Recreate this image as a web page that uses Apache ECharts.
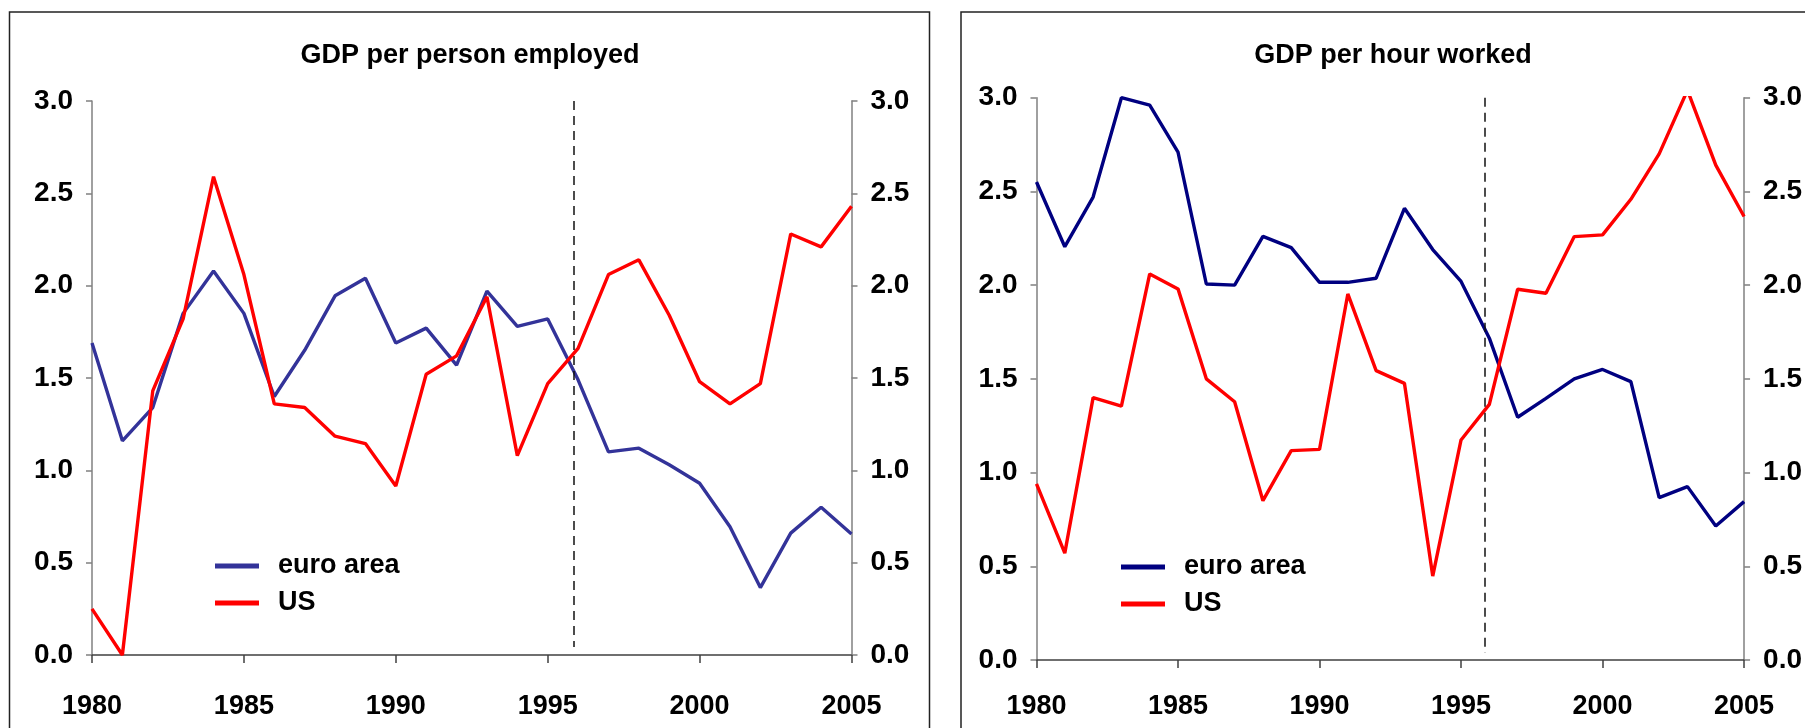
<!DOCTYPE html>
<html>
<head>
<meta charset="utf-8">
<script src="https://cdn.jsdelivr.net/npm/echarts@6/dist/echarts.min.js"></script>
<style>
  html, body { margin: 0; padding: 0; background: #fff; }
  #chart { width: 1805px; height: 728px; }
</style>
</head>
<body>
<div id="chart"></div>
<script>
// Years on the x axis
var years = [1980, 1981, 1982, 1983, 1984, 1985, 1986, 1987, 1988, 1989, 1990, 1991, 1992,
             1993, 1994, 1995, 1996, 1997, 1998, 1999, 2000, 2001, 2002, 2003, 2004, 2005];

// GDP per person employed (% growth)
var personEuro = [1.69, 1.16, 1.34, 1.85, 2.08, 1.85, 1.40, 1.65, 1.945, 2.04, 1.69, 1.77, 1.57,
                  1.97, 1.78, 1.82, 1.49, 1.10, 1.12, 1.03, 0.93, 0.695, 0.365, 0.66, 0.80, 0.655];
var personUS = [0.25, 0.0, 1.43, 1.82, 2.59, 2.06, 1.36, 1.34, 1.185, 1.145, 0.915, 1.52, 1.62,
                1.94, 1.08, 1.47, 1.66, 2.06, 2.14, 1.84, 1.48, 1.36, 1.47, 2.28, 2.21, 2.43];

// GDP per hour worked (% growth)
var hourEuro = [2.55, 2.205, 2.47, 3.0, 2.96, 2.71, 2.006, 2.0, 2.26, 2.20, 2.015, 2.015, 2.037,
                2.41, 2.19, 2.02, 1.717, 1.295, 1.396, 1.50, 1.55, 1.485, 0.866, 0.925, 0.715, 0.845];
var hourUS = [0.94, 0.57, 1.40, 1.355, 2.06, 1.98, 1.50, 1.378, 0.85, 1.117, 1.124, 1.953, 1.544,
              1.476, 0.448, 1.174, 1.364, 1.978, 1.957, 2.259, 2.268, 2.458, 2.70, 3.04, 2.64, 2.366];

var titles = ['GDP per person employed', 'GDP per hour worked'];
var breakYear = 1995.85;

var FONT = "'Liberation Sans', Arial, sans-serif";

function pairs(vals) {
  return years.map(function (y, i) { return [y, vals[i]]; });
}

var chart = echarts.init(document.getElementById('chart'));

function xAxisFor(gridIndex, margin) {
  return {
    type: 'value', gridIndex: gridIndex, min: 1980, max: 2005, interval: 5,
    axisLine: { lineStyle: { color: '#404040', width: 1.5 } },
    axisTick: { inside: false, length: 8, lineStyle: { color: '#404040', width: 1.5 } },
    splitLine: { show: false },
    axisLabel: {
      formatter: function (v) { return String(v); },
      fontFamily: FONT, fontWeight: 'bold', fontSize: 27, color: '#000', margin: margin
    }
  };
}

function yAxisFor(gridIndex, position) {
  return {
    type: 'value', gridIndex: gridIndex, position: position, min: 0, max: 3, interval: 0.5,
    axisLine: { show: true, lineStyle: { color: '#808080', width: 1.5 } },
    axisTick: { show: true, length: 6, lineStyle: { color: '#808080', width: 1.5 } },
    splitLine: { show: false },
    axisLabel: {
      formatter: function (v) { return v.toFixed(1); },
      fontFamily: FONT, fontWeight: 'bold', fontSize: 28, color: '#000', margin: 19
    }
  };
}

function lineSeries(name, vals, color, axisIdx, withBreak, breakEnd) {
  var s = {
    name: name, type: 'line', data: pairs(vals),
    xAxisIndex: axisIdx, yAxisIndex: axisIdx * 2,
    symbol: 'none', clip: true,
    lineStyle: { color: color, width: 3.4 },
    itemStyle: { color: color }
  };
  if (withBreak) {
    s.markLine = {
      silent: true, symbol: 'none', label: { show: false },
      lineStyle: { color: '#111', width: 1.5, type: [9, 6] },
      data: [[{ coord: [breakYear, 3] }, { coord: [breakYear, breakEnd] }]]
    };
  }
  return s;
}

function legendFor(left, top, euroColor) {
  return {
    left: left, top: top, orient: 'vertical', padding: 0,
    itemWidth: 44, itemHeight: 5, itemGap: 7, icon: 'rect',
    textStyle: { fontFamily: FONT, fontWeight: 'bold', fontSize: 27, color: '#000',
                 padding: [0, 0, 0, 14], lineHeight: 30 },
    data: [
      { name: 'euro area', itemStyle: { color: euroColor } },
      { name: 'US', itemStyle: { color: '#ff0000' } }
    ]
  };
}

var option = {
  backgroundColor: '#fff',
  animation: false,
  grid: [
    { left: 92, right: 953.5, top: 101, bottom: 73 },
    { left: 1036.5, right: 58.5, top: 97.7, bottom: 68 }
  ],
  xAxis: [xAxisFor(0, 38), xAxisFor(1, 33)],
  yAxis: [yAxisFor(0, 'left'), yAxisFor(0, 'right'), yAxisFor(1, 'left'), yAxisFor(1, 'right')],
  legend: [
    legendFor(215, 551, '#333399'),
    legendFor(1121, 552, '#000080')
  ],
  graphic: [
    { type: 'rect', shape: { x: 9.5, y: 12, width: 920, height: 780 },
      style: { fill: null, stroke: '#222', lineWidth: 1.5 }, silent: true },
    { type: 'rect', shape: { x: 961, y: 12, width: 900, height: 780 },
      style: { fill: null, stroke: '#222', lineWidth: 1.5 }, silent: true },
    { type: 'text', x: 470, y: 56,
      style: { text: titles[0], fontFamily: FONT, fontWeight: 'bold', fontSize: 27, fill: '#000',
               textAlign: 'center', textVerticalAlign: 'middle' } },
    { type: 'text', x: 1393, y: 56,
      style: { text: titles[1], fontFamily: FONT, fontWeight: 'bold', fontSize: 27, fill: '#000',
               textAlign: 'center', textVerticalAlign: 'middle' } }
  ],
  series: [
    lineSeries('euro area', personEuro, '#333399', 0, true, 0.043),
    lineSeries('US', personUS, '#ff0000', 0, false),
    lineSeries('euro area', hourEuro, '#000080', 1, true, 0.037),
    lineSeries('US', hourUS, '#ff0000', 1, false)
  ]
};

chart.setOption(option);
</script>
</body>
</html>
